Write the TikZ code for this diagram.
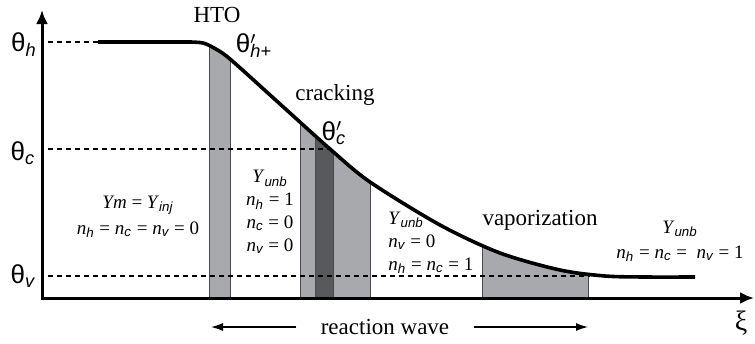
\documentclass[tikz,border=0pt]{standalone}
\usepackage{fontspec}
\setmainfont{Liberation Serif}
\setsansfont{Liberation Sans}
\usepackage{tikz}
\usetikzlibrary{arrows.meta}

\definecolor{stripgray}{HTML}{A7A9AC}
\definecolor{stripdark}{HTML}{58595B}
\definecolor{stripedge}{HTML}{4A4A4C}

% italic variable with sans italic subscript
\newcommand\nsub[1]{\textit{n}\textsubscript{\sffamily\itshape #1}}
\newcommand\Ysub[1]{\textit{Y}\textsubscript{\sffamily\itshape #1}}
\newcommand\profilepath{(98,42) -- plot[smooth, tension=0.5] coordinates {(190,42) (203,43) (214,48) (230,59) (280,104) (330,149) (370,182) (440,225) (500,253) (560,270) (605,276) (645,277) (695,277)}}

\begin{document}
\begin{tikzpicture}[
  x=0.5pt, y=-0.5pt,
  axis/.style={line width=1.5pt, {Latex[length=7pt,width=6pt]}-{Latex[length=7pt,width=6pt]}},
  level/.style={dash pattern=on 2.5pt off 2pt, line width=0.6pt},
  profile/.style={line width=1.8pt},
  light/.style={fill=stripgray, draw=stripedge, line width=0.5pt},
  dark/.style={fill=stripdark, draw=stripedge, line width=0.5pt},
  lbl/.style={font=\fontsize{11.5}{12}\selectfont, inner sep=1pt},
  eq/.style={font=\fontsize{9.5}{12}\selectfont, align=center, inner sep=1pt},
  theta/.style={font=\sffamily\fontsize{13}{14}\selectfont, inner sep=0pt},
  wave/.style={line width=0.6pt, -{Latex[length=6pt,width=4pt]}, shorten <=11pt}
]
\useasboundingbox (0,0) rectangle (755,343);

% shaded zones under the profile
\begin{scope}
  \clip \profilepath -- (695,298) -- (98,298) -- cycle;
  \filldraw[light] (209,20) rectangle (230,298);
  \filldraw[light] (300,20) rectangle (370,298);
  \filldraw[dark] (315,20) rectangle (333,298);
  \filldraw[light] (482,20) rectangle (588,298);
\end{scope}

% levels
\draw[level] (48,42) -- (98,42);
\draw[level] (48,149) -- (328,149);
\draw[level] (48,276) -- (590,276);

\draw[profile] \profilepath;
\draw[axis] (42,10) -- (42,298) -- (754,298);

% axis labels
\node[theta] (thh) at (24,45) {θ\textsubscript{\itshape h}};
\node[theta] (thc) at (23,153) {θ\textsubscript{\itshape c}};
\node[theta] (thv) at (23,276) {θ\textsubscript{\itshape v}};
\node[font=\fontsize{14}{14}\selectfont, inner sep=0pt] (xi) at (741,323) {ξ};

% zone labels
\node[lbl] (hto) at (217,15) {HTO};
\node[theta] (thp) at (254,46) {θ\rlap{$'$}\textsubscript{\itshape h+}};
\node[lbl] (crack) at (335,95) {cracking};
\node[theta] (thcp) at (334,133) {θ\rlap{$'$}\textsubscript{\itshape c}};
\node[lbl] (vap) at (540,220) {vaporization};

\node[eq, font=\fontsize{9.5}{13}\selectfont] (inj) at (138,217) {\textit{Ym} = \Ysub{inj}\\ \nsub{h} = \nsub{c} = \nsub{v} = 0};
\node[eq, font=\fontsize{9.5}{11.5}\selectfont] (unb1) at (270,212) {\Ysub{unb}\\ \nsub{h} = 1\\ \nsub{c} = 0\\ \nsub{v} = 0};
\node[eq, align=left, anchor=west, font=\fontsize{9.5}{11.5}\selectfont] (unb2) at (386,243) {\Ysub{unb}\\ \nsub{v} = 0\\ \nsub{h} = \nsub{c} = 1};
\node[eq, font=\fontsize{9.5}{12.5}\selectfont] (unb3) at (680,241) {\Ysub{unb}\\ \nsub{h} = \nsub{c} = \ \nsub{v} = 1};

% reaction wave
\node[lbl] (wave) at (385,327) {reaction wave};
\coordinate (wl) at (211,327);
\coordinate (wr) at (588,327);
\draw[wave] (wave) -- (wl);
\draw[wave] (wave) -- (wr);
\end{tikzpicture}
\end{document}
